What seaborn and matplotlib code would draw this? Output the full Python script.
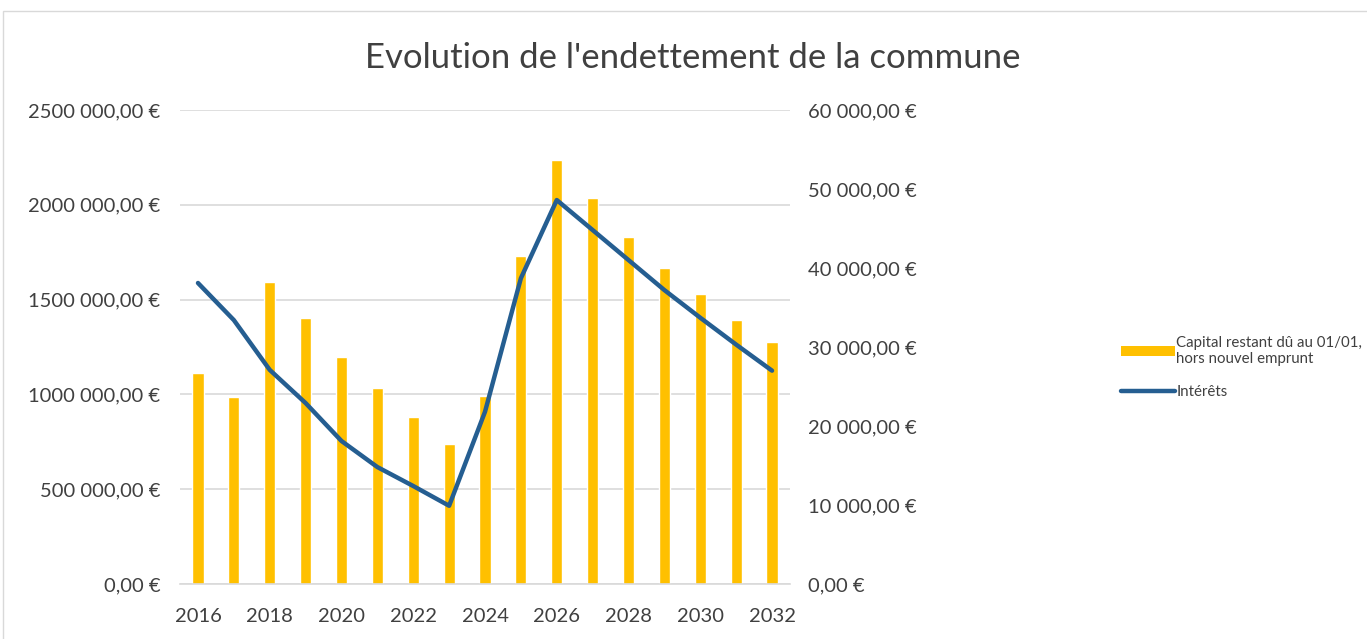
import numpy as np
import pandas as pd
import seaborn as sns
import matplotlib.pyplot as plt
from matplotlib.patches import Rectangle
from matplotlib.lines import Line2D
from matplotlib.ticker import FuncFormatter

# Values
years = list(range(2016, 2033))
capital = [1113000, 986000, 1593000, 1403000, 1197000, 1034000, 881000, 738000, 992000,
           1730000, 2236000, 2036000, 1830000, 1667000, 1530000, 1392000, 1276000]
interets = [38100, 33400, 27100, 22900, 18100, 14800, 12400, 9900, 21800,
            38700, 48600, 44800, 41000, 37200, 33700, 30300, 27000]

df = pd.DataFrame({'annee': years, 'capital': capital, 'interets': interets})

sns.set_style('white')
plt.rcParams['font.family'] = ['Lato', 'DejaVu Sans']

bar_color = '#FFC000'
line_color = '#255E91'
txt_color = '#404040'


def euro(v, pos=None):
    v = int(round(v))
    if v >= 1000:
        return f"{v // 1000} {v % 1000:03d},00 €"
    return f"{v},00 €"


fig = plt.figure(figsize=(13.67, 6.39), dpi=100)
ax = fig.add_axes([0.1317, 0.0861, 0.4462, 0.7418])

sns.barplot(data=df, x='annee', y='capital', native_scale=True, color=bar_color,
            width=0.31, saturation=1, ax=ax)
ax.set_xlim(2015.5, 2032.5)
ax.set_ylim(0, 2500000)
ax.set_yticks(np.arange(0, 2500001, 500000))
ax.yaxis.set_major_formatter(FuncFormatter(euro))
ax.set_xticks(years[::2])
ax.set_xticklabels([str(y) for y in years[::2]])
ax.grid(axis='y', color='#D9D9D9', linewidth=1.2)
ax.set_axisbelow(True)
ax.set_xlabel('')
ax.set_ylabel('')
for s in ['top', 'left', 'right']:
    ax.spines[s].set_visible(False)
ax.spines['bottom'].set_color('#D9D9D9')
ax.spines['bottom'].set_linewidth(1.2)
ax.tick_params(axis='y', length=0, pad=14, labelsize=14.5, labelcolor=txt_color)
ax.tick_params(axis='x', length=0, pad=17, labelsize=14.5, labelcolor=txt_color)

ax2 = ax.twinx()
sns.lineplot(data=df, x='annee', y='interets', color=line_color, linewidth=3.2,
             solid_capstyle='round', ax=ax2)
ax2.set_ylim(0, 60000)
ax2.set_yticks(np.arange(0, 60001, 10000))
ax2.yaxis.set_major_formatter(FuncFormatter(euro))
ax2.set_ylabel('')
for s in ['top', 'left', 'right', 'bottom']:
    ax2.spines[s].set_visible(False)
ax2.tick_params(axis='y', length=0, pad=13, labelsize=14.5, labelcolor=txt_color)

fig.text(0.507, 0.91, "Evolution de l'endettement de la commune", ha='center', va='center',
         fontsize=25, color=txt_color)

handles = [Rectangle((0, 0), 1, 1, facecolor=bar_color, edgecolor='none'),
           Line2D([0], [0], color=line_color, linewidth=3.2, solid_capstyle='round')]
labels = ['Capital restant dû au 01/01,\nhors nouvel emprunt', 'Intérêts']
fig.legend(handles, labels, loc='center left', bbox_to_anchor=(0.81, 0.425), frameon=False,
           fontsize=10.8, labelcolor=txt_color, handlelength=3.6, handleheight=0.6,
           handletextpad=0.1, labelspacing=1.3)

fig.patches.append(Rectangle((3 / 1367, -0.2), 1.2, 1.2 - 11 / 639, transform=fig.transFigure,
                             fill=False, edgecolor='#D9D9D9', linewidth=1))

fig.savefig('out.png', dpi=100)
